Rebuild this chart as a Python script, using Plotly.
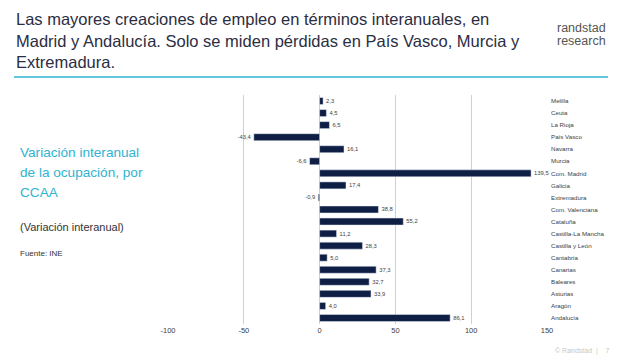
import plotly.graph_objects as go

regions = ["Melilla", "Ceuta", "La Rioja", "País Vasco", "Navarra", "Murcia", "Com. Madrid",
           "Galicia", "Extremadura", "Com. Valenciana", "Cataluña", "Castilla-La Mancha",
           "Castilla y León", "Cantabria", "Canarias", "Baleares", "Asturias", "Aragón", "Andalucía"]
values = [2.3, 4.5, 6.5, -43.4, 16.1, -6.6, 139.5, 17.4, -0.9, 38.8, 55.2, 11.2, 28.3,
          5.0, 37.3, 32.7, 33.9, 4.0, 86.1]
x_ticks = [-100, -50, 0, 50, 100, 150]

labels = [f"{v:.1f}".replace(".", ",") for v in values]

OFF = 8  # page body margin
W, H = 629 - OFF, 357 - OFF
# plot area in screen pixels
pl, pr, pt, pb = 168, 547, 95, 324

fig = go.Figure(go.Bar(
    y=regions, x=values, orientation="h",
    marker_color="#0f1e45", text=labels, textposition="outside",
    textfont=dict(size=7.5, color="#404040", family="Liberation Sans"),
    cliponaxis=False,
))

fig.update_layout(
    width=W, height=H,
    margin=dict(l=pl - OFF, r=W - (pr - OFF), t=pt - OFF, b=H - (pb - OFF), autoexpand=False),
    paper_bgcolor="white", plot_bgcolor="white",
    bargap=0.42, showlegend=False,
    font=dict(family="Liberation Sans", color="#404040"),
    xaxis=dict(range=[-100, 150], tickvals=x_ticks, ticktext=[str(t) for t in x_ticks],
               showgrid=True, gridcolor="#d0d0d0", gridwidth=1, zeroline=False,
               showline=False, tickfont=dict(size=7.5, color="#404040"), automargin=False),
    yaxis=dict(categoryorder="array", categoryarray=regions[::-1], side="right",
               showgrid=False, zeroline=False, showline=False, automargin=False,
               tickfont=dict(size=6.2, color="#404040"), ticklabelstandoff=3),
)


def px_x(x):
    return (x - pl) / (pr - pl)


def px_y(y):
    return (pb - y) / (pb - pt)


# (x, center y, text, size, color) in screen pixels
lines = [
    (14, 19, "Las mayores creaciones de empleo en términos interanuales, en", 16.5, "#2b2d42"),
    (14, 41, "Madrid y Andalucía. Solo se miden pérdidas en País Vasco, Murcia y", 16.5, "#2b2d42"),
    (14, 62, "Extremadura.", 16.5, "#2b2d42"),
    (555, 28, "randstad", 12.5, "#555555"),
    (555, 41, "research", 12.5, "#555555"),
    (18, 152, "Variación interanual", 13.6, "#2fb3d0"),
    (18, 172, "de la ocupación, por", 13.6, "#2fb3d0"),
    (18, 192, "CCAA", 13.6, "#2fb3d0"),
    (18, 227, "(Variación interanual)", 11, "#333333"),
    (18, 253, "Fuente: INE", 8, "#333333"),
    (553, 351, "© Randstad  |    7", 7, "#c8c8c8"),
]
for x, y, t, s, c in lines:
    fig.add_annotation(xref="paper", yref="paper", x=px_x(x), y=px_y(y),
                       text=t, showarrow=False, align="left",
                       xanchor="left", yanchor="middle",
                       font=dict(size=s, color=c, family="Liberation Sans"))

fig.add_shape(type="line", xref="paper", yref="paper",
              x0=px_x(14), x1=px_x(608), y0=px_y(77), y1=px_y(77),
              line=dict(color="#2fb3d0", width=1.5))

fig.write_html("out.html")
